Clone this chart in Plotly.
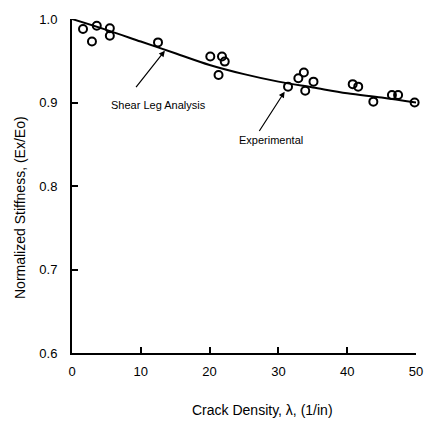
import plotly.graph_objects as go

# Shear-leg analysis prediction of normalized stiffness vs crack density
analysis_density = [0, 5, 10, 15, 20, 25, 30, 35, 40, 45, 50]
analysis_stiffness = [1.000, 0.987, 0.973, 0.959, 0.945, 0.934, 0.925, 0.918, 0.911, 0.906, 0.900]

# Experimental measurements
exp_density = [1.6, 3.6, 2.9, 5.5, 5.5, 12.5, 20.1, 21.8, 22.2, 21.3,
               31.4, 32.9, 33.7, 33.9, 35.1, 40.8, 41.6, 43.8, 46.5, 47.4, 49.8]
exp_stiffness = [0.988, 0.992, 0.973, 0.989, 0.980, 0.972, 0.955, 0.955, 0.949, 0.933,
                 0.919, 0.929, 0.936, 0.914, 0.925, 0.922, 0.919, 0.901, 0.909, 0.909, 0.900]

x_ticks = [0, 10, 20, 30, 40, 50]
y_ticks = [0.6, 0.7, 0.8, 0.9, 1.0]

FONT = "Liberation Sans, Arial, sans-serif"

fig = go.Figure()
fig.add_trace(go.Scatter(
    x=analysis_density, y=analysis_stiffness, mode="lines",
    line=dict(color="black", width=2, shape="spline"),
    showlegend=False, hoverinfo="skip",
))
fig.add_trace(go.Scatter(
    x=exp_density, y=exp_stiffness, mode="markers",
    marker=dict(symbol="circle-open", size=8, color="black", line=dict(width=2)),
    showlegend=False, cliponaxis=False,
))

# Labelled arrows (tail offsets in pixels from the arrow head)
fig.add_annotation(
    x=13.5, y=0.962, ax=-30, ay=38, xref="x", yref="y",
    showarrow=True, arrowhead=2, arrowsize=1, arrowwidth=1.2,
    arrowcolor="black", text="", standoff=0,
)
fig.add_annotation(
    x=12.5, y=0.897, xref="x", yref="y", text="Shear Leg Analysis",
    showarrow=False, font=dict(family=FONT, size=11, color="black"),
)
fig.add_annotation(
    x=31.3, y=0.918, ax=-29, ay=45, xref="x", yref="y",
    showarrow=True, arrowhead=2, arrowsize=1, arrowwidth=1.2,
    arrowcolor="black", text="", standoff=5,
)
fig.add_annotation(
    x=28.9, y=0.855, xref="x", yref="y", text="Experimental",
    showarrow=False, font=dict(family=FONT, size=11, color="black"),
)

# Axis titles
fig.add_annotation(
    x=(262 - 72) / 344, y=-(410 - 353) / 334, xref="paper", yref="paper",
    text="Crack Density, λ, (1/in)", showarrow=False,
    xanchor="center", yanchor="middle", font=dict(family=FONT, size=14),
)
fig.add_annotation(
    x=-(72 - 20) / 344, y=(353 - 208) / 334, xref="paper", yref="paper",
    text="Normalized Stiffness, (Ex/Eo)", showarrow=False, textangle=-90,
    xanchor="center", yanchor="middle", font=dict(family=FONT, size=14),
)

fig.update_layout(
    width=424, height=425,
    margin=dict(l=72, r=8, t=19, b=72, autoexpand=False),
    paper_bgcolor="white", plot_bgcolor="white",
    font=dict(family=FONT, size=13, color="black"),
    xaxis=dict(
        range=[0, 50], tickvals=x_ticks, ticks="inside", ticklen=6, tickwidth=1.5,
        tickcolor="black", showline=True, linecolor="black", linewidth=2,
        showgrid=False, zeroline=False, automargin=False, ticklabelstandoff=5,
    ),
    yaxis=dict(
        range=[0.6, 1.0], tickvals=y_ticks, tickformat=".1f", ticks="inside",
        ticklen=6, tickwidth=1.5, tickcolor="black", showline=True,
        linecolor="black", linewidth=2, showgrid=False, zeroline=False,
        automargin=False, ticklabelstandoff=10,
    ),
)

fig.write_html("out.html")
